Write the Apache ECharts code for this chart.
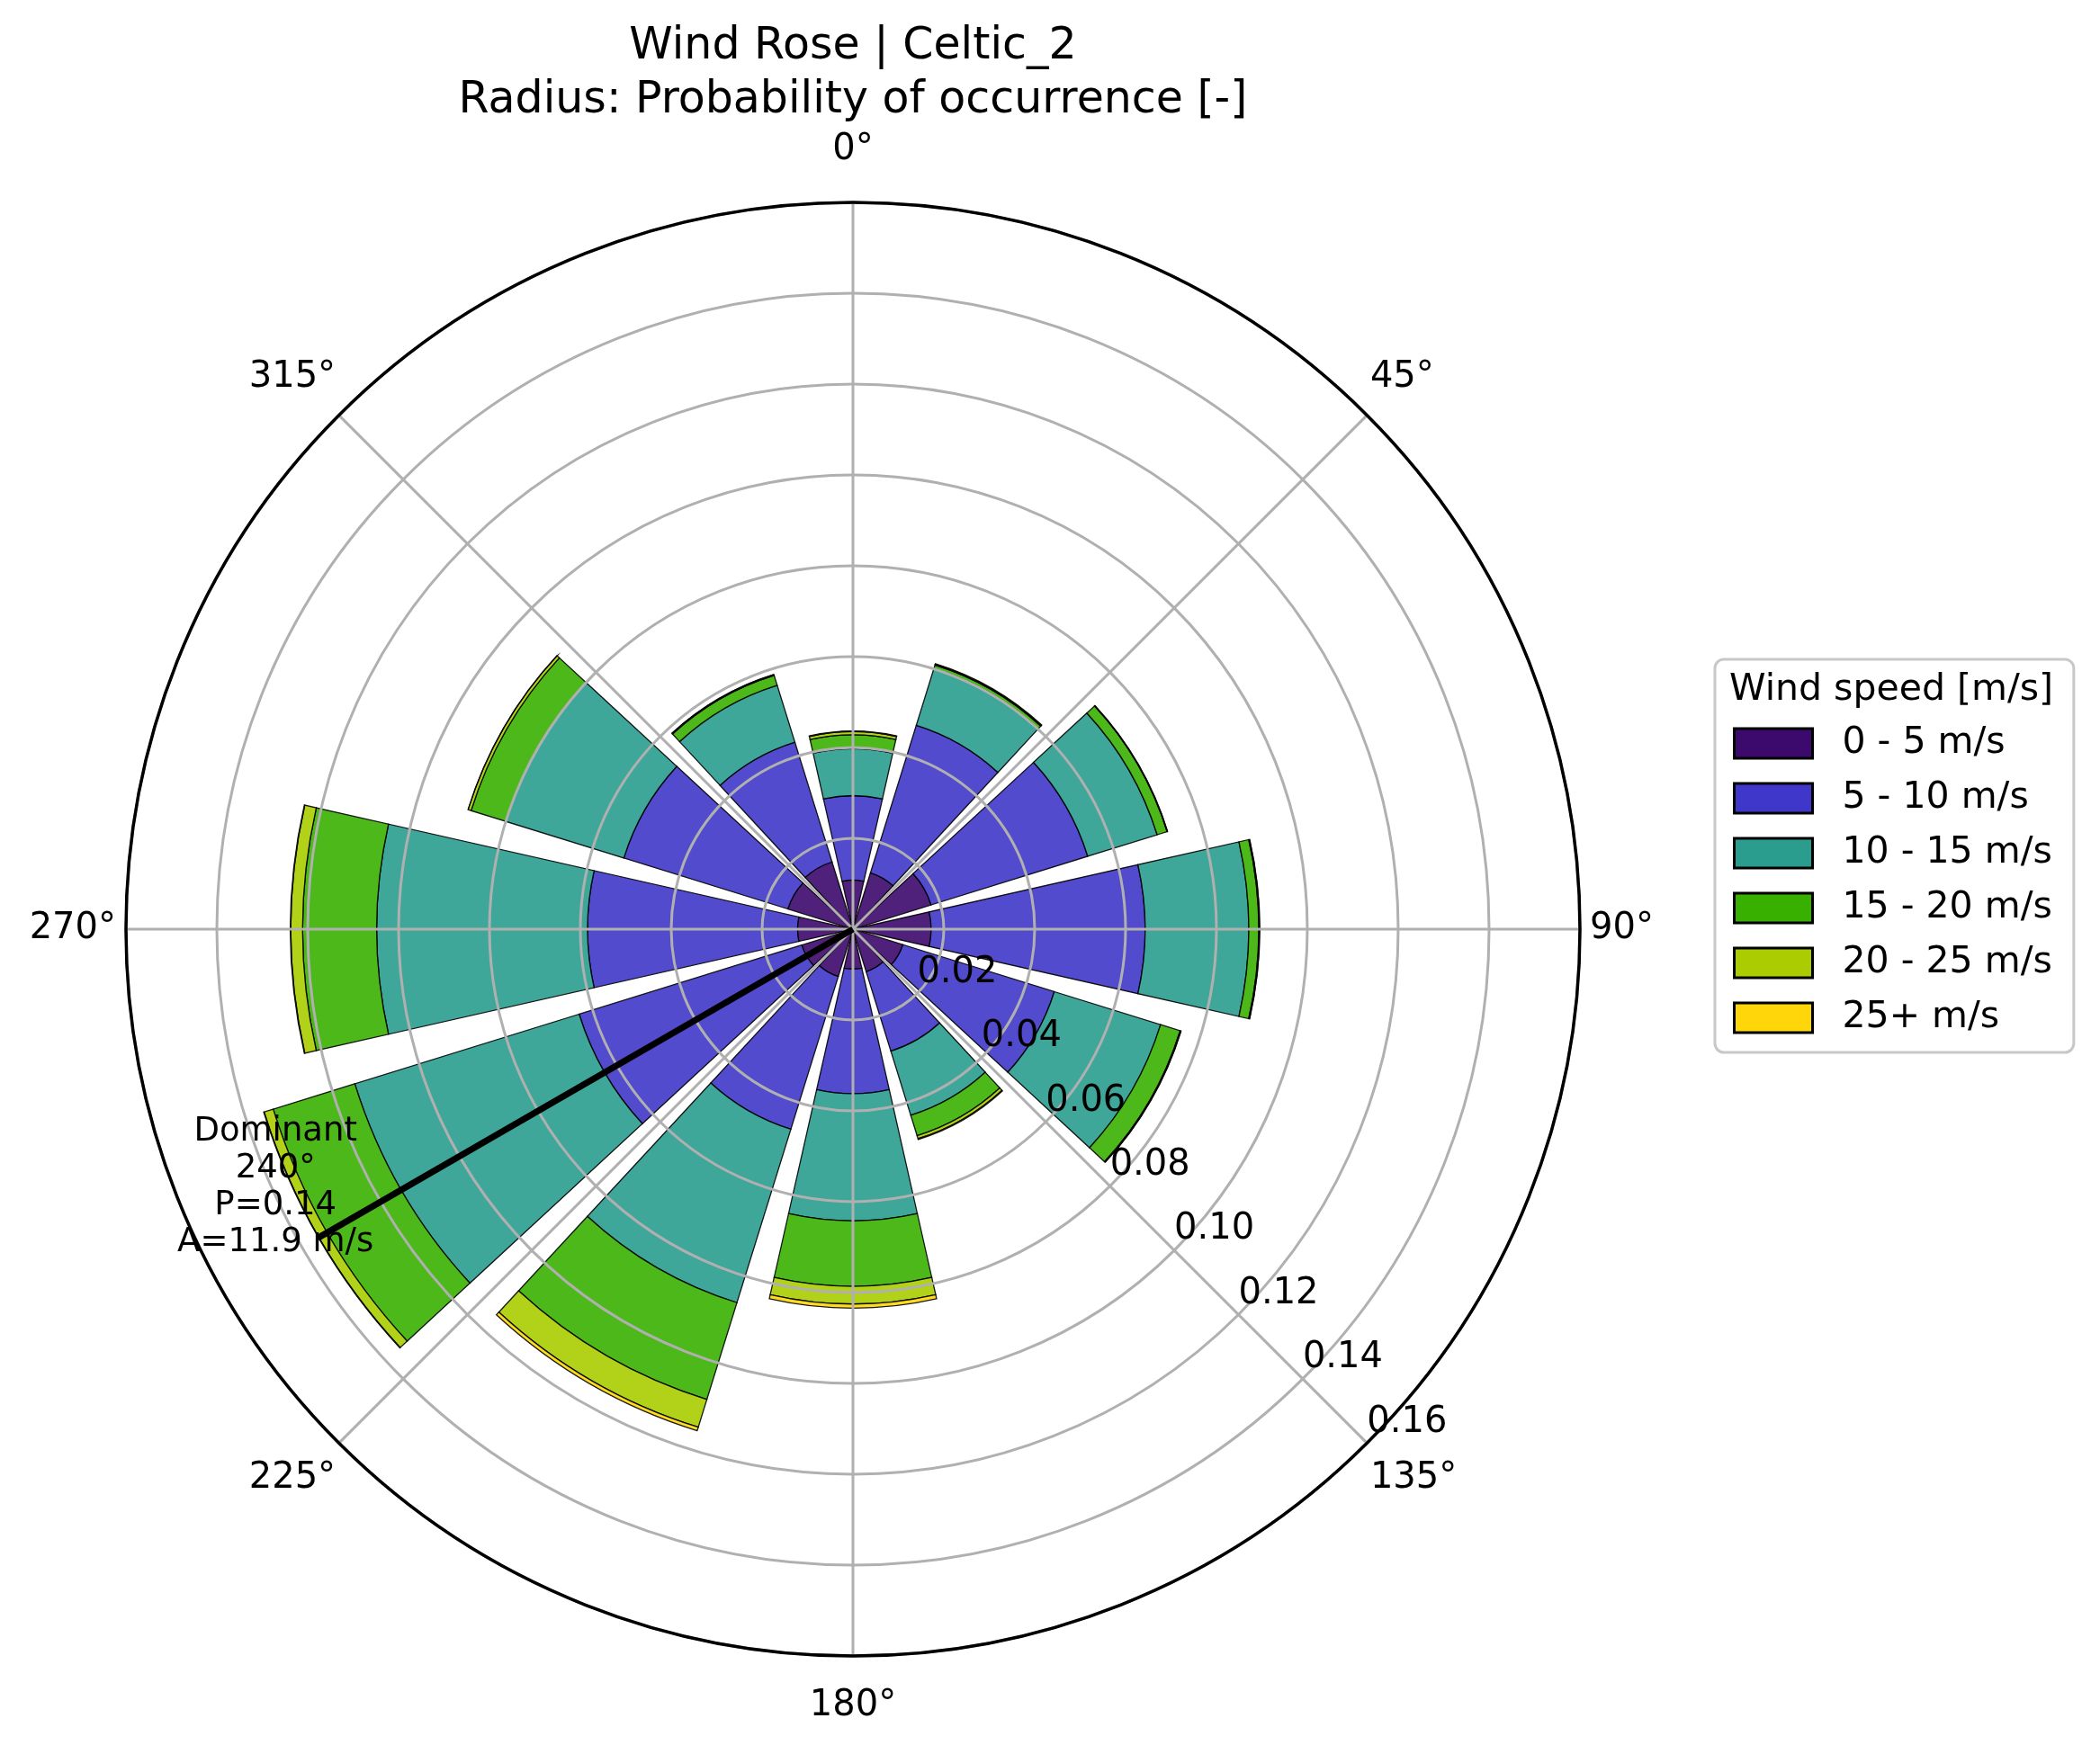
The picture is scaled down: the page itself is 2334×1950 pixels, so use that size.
<!DOCTYPE html>
<html>
<head>
<meta charset="utf-8">
<script src="https://cdn.jsdelivr.net/npm/echarts@6/dist/echarts.min.js"></script>
<style>html,body{margin:0;padding:0;background:#fff}#c{width:2334px;height:1950px}</style>
</head>
<body>
<div id="c"></div>
<script>
// ---------- data ----------
const directions = ['0°','30°','60°','90°','120°','150°','180°','210°','240°','270°','300°','330°'];
const speedBins = ['0 - 5 m/s','5 - 10 m/s','10 - 15 m/s','15 - 20 m/s','20 - 25 m/s','25+ m/s'];
const p0_5   = [0.0108,0.0130,0.0180,0.0172,0.0115,0.0098,0.0088,0.0109,0.0118,0.0122,0.0150,0.0155];
const p5_10  = [0.0186,0.0340,0.0361,0.0471,0.0349,0.0183,0.0274,0.0352,0.0513,0.0462,0.0378,0.0276];
const p10_15 = [0.0103,0.0131,0.0160,0.0228,0.0245,0.0148,0.0280,0.0400,0.0517,0.0464,0.0272,0.0131];
const p15_20 = [0.0031,0.0008,0.0023,0.0022,0.0045,0.0047,0.0144,0.0223,0.0188,0.0163,0.0080,0.0023];
const p20_25 = [0.0007,0.0002,0.0001,0.0002,0.0002,0.0007,0.0039,0.0064,0.0021,0.0026,0.0007,0.0002];
const p25    = [0.0001,0.0001,0.0000,0.0000,0.0000,0.0002,0.0009,0.0008,0.0001,0.0001,0.0000,0.0000];
const angleTicks = [0,45,90,135,180,225,270,315];
const radiusMax = 0.16, radiusStep = 0.02;
const domDirection = '240°', domP = 0.136, domA = 11.9;

// ---------- style ----------
const binColors = ['#3c096c','#3f37c9','#2a9d8f','#38b000','#aacc00','#ffd60a'];
const FONT = 'DejaVu Sans';
const CX = 948, CY = 1033, R = 808;
const seriesValues = [p0_5,p5_10,p10_15,p15_20,p20_25,p25];

const labelStyleKey = {0:'t',45:'ne',90:'r',135:'se',180:'b',225:'sw',270:'l',315:'nw'};
const baseLab = {fontFamily: FONT, fontSize: 40, color: '#000'};
const rich = {
  t:  Object.assign({padding:[0,0,33,0]}, baseLab),
  b:  Object.assign({padding:[31,0,0,0]}, baseLab),
  l:  Object.assign({padding:[0,6,0,0]}, baseLab),
  r:  Object.assign({padding:[0,0,0,6]}, baseLab),
  ne: Object.assign({padding:[0,0,19,0]}, baseLab),
  nw: Object.assign({padding:[0,0,19,0]}, baseLab),
  se: Object.assign({padding:[16,0,0,0]}, baseLab),
  sw: Object.assign({padding:[16,0,0,0]}, baseLab)
};

const chart = echarts.init(document.getElementById('c'), null, {renderer: 'canvas'});

const barSeries = speedBins.map((name, i) => ({
  type: 'bar', name: name, coordinateSystem: 'polar', polarIndex: 0, stack: 'wind',
  data: seriesValues[i], barCategoryGap: '15%', z: 2,
  itemStyle: {color: binColors[i], opacity: 0.9, borderColor: '#000', borderWidth: 1.3},
  emphasis: {disabled: true}
}));

const option = {
  animation: false,
  backgroundColor: '#fff',
  title: [
    {text: 'Wind Rose | Celtic_2\nRadius: Probability of occurrence [-]', left: CX, top: 22, textAlign: 'center', padding: 0,
     textStyle: {fontFamily: FONT, fontSize: 49, fontWeight: 'normal', color: '#000', lineHeight: 60}},
    {text: 'Wind speed [m/s]', left: 1922, top: 745, padding: 0,
     textStyle: {fontFamily: FONT, fontSize: 41, fontWeight: 'normal', color: '#000', lineHeight: 44}}
  ],
  legend: {
    orient: 'vertical', left: 1906, top: 733,
    padding: [73, 24, 18, 20],
    itemWidth: 87, itemHeight: 33, itemGap: 20,
    borderColor: '#c8c8c8', borderWidth: 3, borderRadius: 10,
    icon: 'rect', selectedMode: false,
    textStyle: {fontFamily: FONT, fontSize: 41, color: '#000', lineHeight: 41, padding: [0,0,0,28]},
    data: speedBins.map((n, i) => ({name: n, itemStyle: {color: binColors[i], opacity: 1, borderColor: '#000', borderWidth: 3}}))
  },
  polar: [
    {center: [CX, CY], radius: R},
    {center: [CX, CY], radius: R},
    {center: [CX, CY], radius: R}
  ],
  angleAxis: [
    {polarIndex: 0, type: 'category', data: directions, startAngle: 105, clockwise: true, show: false},
    {polarIndex: 1, type: 'value', min: 0, max: 360, interval: 45, startAngle: 90, clockwise: true, z: 3,
     axisLine: {show: true, lineStyle: {color: '#000', width: 3.5}},
     axisTick: {show: false},
     splitLine: {show: true, lineStyle: {color: '#b0b0b0', width: 3}},
     axisLabel: {show: true, margin: 5, fontFamily: FONT, fontSize: 40, color: '#000', rich: rich,
       formatter: function (v) { if (angleTicks.indexOf(v) < 0) return ''; return '{' + labelStyleKey[v] + '|' + v + '°}'; }}},
    {polarIndex: 2, type: 'value', min: 0, max: 360, startAngle: -45, clockwise: true, show: false}
  ],
  radiusAxis: [
    {polarIndex: 0, type: 'value', min: 0, max: radiusMax, show: false},
    {polarIndex: 1, type: 'value', min: 0, max: radiusMax, interval: radiusStep, z: 3,
     axisLine: {show: false}, axisTick: {show: false}, axisLabel: {show: false},
     splitLine: {show: true, lineStyle: {color: '#b0b0b0', width: 3}}},
    {polarIndex: 2, type: 'value', min: 0, max: radiusMax, interval: radiusStep, z: 4,
     axisLine: {show: false}, axisTick: {show: false}, splitLine: {show: false},
     axisLabel: {show: true, margin: 0, align: 'left', verticalAlign: 'bottom', padding: [0,0,3,0],
       fontFamily: FONT, fontSize: 40, color: '#000',
       formatter: function (v) { return v === 0 ? '' : v.toFixed(2); }}}
  ],
  series: barSeries.concat([
    {type: 'line', coordinateSystem: 'polar', polarIndex: 0, z: 10, symbol: 'none', silent: true,
     lineStyle: {color: '#000', width: 7, cap: 'butt'},
     data: [[0, domDirection], [domP, domDirection]]},
    {type: 'scatter', coordinateSystem: 'polar', polarIndex: 0, z: 11, symbolSize: 1, silent: true,
     itemStyle: {color: 'rgba(0,0,0,0)', opacity: 1},
     label: {show: true, position: 'inside', offset: [-47, -57], align: 'center', verticalAlign: 'middle',
       fontFamily: FONT, fontSize: 37, lineHeight: 41, color: '#000', opacity: 1,
       textBorderWidth: 0,
       formatter: 'Dominant\n' + domDirection + '\nP=' + domP.toFixed(2) + '\nA=' + domA.toFixed(1) + ' m/s'},
     data: [[domP, domDirection]]}
  ])
};
chart.setOption(option);
</script>
</body>
</html>
